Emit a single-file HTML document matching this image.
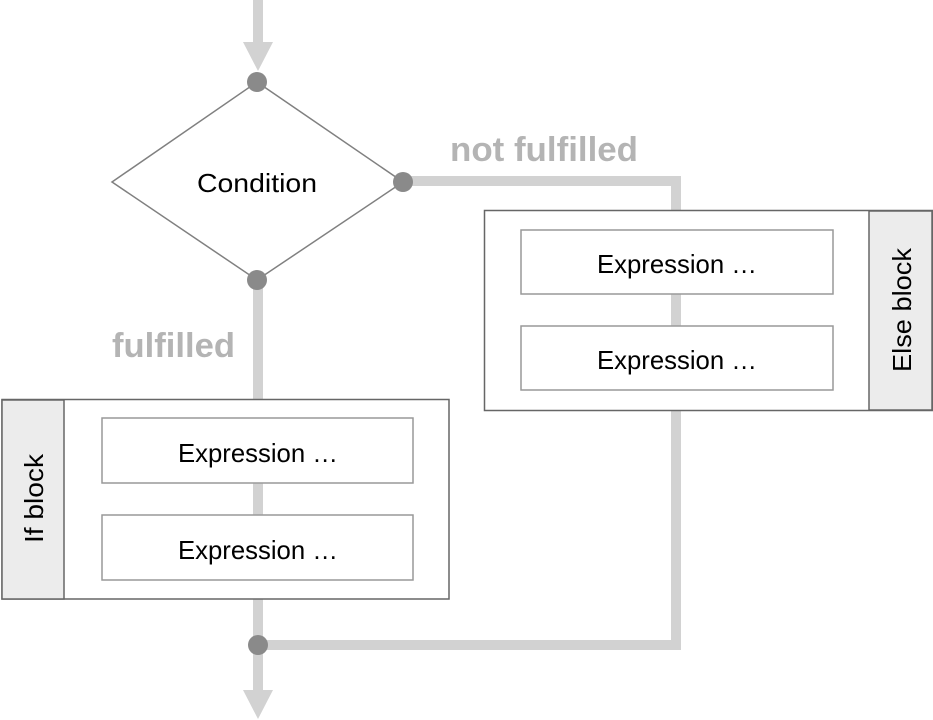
<!DOCTYPE html>
<html><head><meta charset="utf-8"><style>
body{margin:0;background:#fff;}
svg{display:block;font-family:"Liberation Sans",sans-serif;}
</style></head><body>
<svg width="933" height="720" viewBox="0 0 933 720" xmlns="http://www.w3.org/2000/svg">
<g stroke="#d2d2d2" stroke-width="10" fill="none">
<line x1="258" y1="0" x2="258" y2="44"/>
<polyline points="403,181 676,181 676,210"/>
<line x1="258" y1="280" x2="258" y2="400"/>
<line x1="258" y1="599" x2="258" y2="692"/>
<polyline points="676,410 676,645 258,645"/>
</g>
<polygon points="243,42 273,42 258,71" fill="#d2d2d2"/>
<polygon points="243,690 273,690 258,719" fill="#d2d2d2"/>
<polygon points="257,82 403,182 257,280 112,182" fill="#fff" stroke="#808080" stroke-width="1.5"/>
<text x="197" y="192" font-size="26" textLength="120" lengthAdjust="spacingAndGlyphs" fill="#000">Condition</text>
<g fill="#8a8a8a"><circle cx="257" cy="82" r="10"/><circle cx="403" cy="182" r="10"/><circle cx="257" cy="280" r="10"/><circle cx="258" cy="645" r="10"/></g>
<text x="450" y="161" font-size="34" font-weight="bold" fill="#b4b4b4" textLength="188" lengthAdjust="spacingAndGlyphs">not fulfilled</text>
<text x="112" y="357" font-size="34" font-weight="bold" fill="#b4b4b4" textLength="123" lengthAdjust="spacingAndGlyphs">fulfilled</text>
<rect x="484.5" y="210.5" width="448" height="200" fill="#fff" stroke="#666" stroke-width="1.5"/>
<rect x="869" y="211" width="63" height="199" fill="#ececec" stroke="#666" stroke-width="1.5"/>
<line x1="676" y1="294" x2="676" y2="326" stroke="#d2d2d2" stroke-width="10"/>
<rect x="521" y="230" width="312" height="64" fill="#fff" stroke="#999" stroke-width="1.5"/>
<rect x="521" y="326" width="312" height="64" fill="#fff" stroke="#999" stroke-width="1.5"/>
<text x="597" y="273" font-size="26" textLength="160" lengthAdjust="spacingAndGlyphs">Expression …</text>
<text x="597" y="369" font-size="26" textLength="160" lengthAdjust="spacingAndGlyphs">Expression …</text>
<text transform="translate(911,372) rotate(-90)" font-size="26" textLength="124" lengthAdjust="spacingAndGlyphs">Else block</text>
<rect x="2" y="399.5" width="447" height="199.5" fill="#fff" stroke="#666" stroke-width="1.5"/>
<rect x="2" y="400" width="62" height="199" fill="#ececec" stroke="#666" stroke-width="1.5"/>
<line x1="258" y1="483" x2="258" y2="515" stroke="#d2d2d2" stroke-width="10"/>
<rect x="102" y="418" width="311" height="65" fill="#fff" stroke="#999" stroke-width="1.5"/>
<rect x="102" y="515" width="311" height="65" fill="#fff" stroke="#999" stroke-width="1.5"/>
<text x="178" y="462" font-size="26" textLength="160" lengthAdjust="spacingAndGlyphs">Expression …</text>
<text x="178" y="559" font-size="26" textLength="160" lengthAdjust="spacingAndGlyphs">Expression …</text>
<text transform="translate(43,543) rotate(-90)" font-size="26" textLength="89" lengthAdjust="spacingAndGlyphs">If block</text>
</svg>
</body></html>
